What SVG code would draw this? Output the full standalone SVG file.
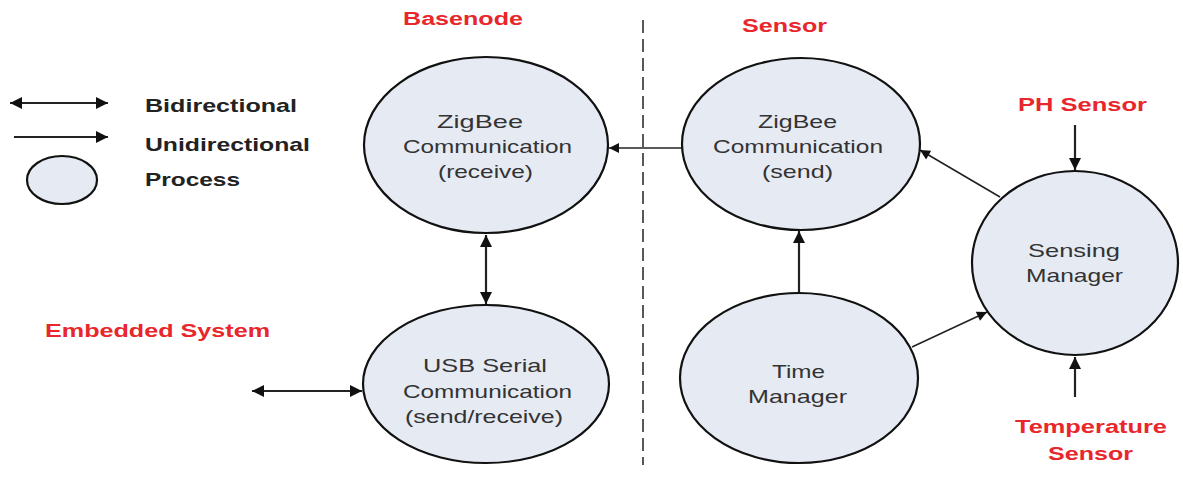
<svg xmlns="http://www.w3.org/2000/svg" width="1183" height="477" viewBox="0 0 1183 477">
<defs>
<marker id="ah" viewBox="0 0 10 10" refX="10" refY="5" markerWidth="13" markerHeight="10" markerUnits="userSpaceOnUse" orient="auto-start-reverse">
<path d="M0,0 L10,5 L0,10 z" fill="#111"/>
</marker>
<marker id="ahb" viewBox="0 0 10 10" refX="10" refY="5" markerWidth="16" markerHeight="12" markerUnits="userSpaceOnUse" orient="auto-start-reverse">
<path d="M0,0 L10,5 L0,10 z" fill="#111"/>
</marker>
</defs>
<style>
.proc{fill:#e6eaf3;stroke:#111;stroke-width:2.2}
.pt{font-family:"Liberation Sans",Arial,sans-serif;font-size:19px;fill:#333}
.red{font-family:"Liberation Sans",Arial,sans-serif;font-size:18px;font-weight:bold;fill:#e8262b}
.leg{font-family:"Liberation Sans",Arial,sans-serif;font-size:19px;font-weight:bold;fill:#222}
.c{stroke:#222;stroke-width:1.6;fill:none}
.cb{stroke:#222;stroke-width:2.2;fill:none}
</style>
<rect width="1183" height="477" fill="#fff"/>
<g id="legend">
<line class="cb" x1="10" y1="103" x2="108" y2="103" marker-start="url(#ahb)" marker-end="url(#ahb)"/>
<line class="cb" x1="14" y1="137" x2="108" y2="137" marker-end="url(#ahb)"/>
<ellipse class="proc" cx="62" cy="180" rx="35" ry="24"/>
<text class="leg" x="145" y="112" textLength="152" lengthAdjust="spacingAndGlyphs">Bidirectional</text>
<text class="leg" x="145" y="151" textLength="165" lengthAdjust="spacingAndGlyphs">Unidirectional</text>
<text class="leg" x="145" y="186" textLength="95" lengthAdjust="spacingAndGlyphs">Process</text>
</g>
<g id="labels">
<text class="red" x="403" y="25" textLength="120" lengthAdjust="spacingAndGlyphs">Basenode</text>
<text class="red" x="742" y="32" textLength="85" lengthAdjust="spacingAndGlyphs">Sensor</text>
<text class="red" x="1018" y="111" textLength="129" lengthAdjust="spacingAndGlyphs">PH Sensor</text>
<text class="red" x="45" y="337" textLength="225" lengthAdjust="spacingAndGlyphs">Embedded System</text>
<text class="red" x="1015" y="433" textLength="152" lengthAdjust="spacingAndGlyphs">Temperature</text>
<text class="red" x="1048" y="460" textLength="85" lengthAdjust="spacingAndGlyphs">Sensor</text>
</g>
<line id="divider" x1="643" y1="20" x2="643" y2="465" stroke="#222" stroke-width="1.5" stroke-dasharray="13,6"/>
<g id="connectors">
<line class="c" x1="682" y1="148" x2="609" y2="148" marker-end="url(#ah)"/>
<line class="cb" x1="486" y1="235" x2="486" y2="304" marker-start="url(#ahb)" marker-end="url(#ahb)"/>
<line class="cb" x1="252" y1="391" x2="362" y2="391" marker-start="url(#ahb)" marker-end="url(#ahb)"/>
<line class="cb" x1="799" y1="293" x2="799" y2="231" marker-end="url(#ahb)"/>
<line class="c" x1="1000" y1="197" x2="920" y2="150" marker-end="url(#ah)"/>
<line class="c" x1="912" y1="347" x2="987" y2="312" marker-end="url(#ah)"/>
<line class="cb" x1="1075" y1="125" x2="1075" y2="170" marker-end="url(#ahb)"/>
<line class="cb" x1="1075" y1="397" x2="1075" y2="357" marker-end="url(#ahb)"/>
</g>
<g id="zigbee-receive">
<ellipse class="proc" cx="486" cy="145" rx="122" ry="88"/>
<text class="pt" x="437" y="128" textLength="86" lengthAdjust="spacingAndGlyphs">ZigBee</text>
<text class="pt" x="403" y="153" textLength="169" lengthAdjust="spacingAndGlyphs">Communication</text>
<text class="pt" x="438" y="178" textLength="95" lengthAdjust="spacingAndGlyphs">(receive)</text>
</g>
<g id="zigbee-send">
<ellipse class="proc" cx="801" cy="144" rx="119" ry="86"/>
<text class="pt" x="758" y="128" textLength="79" lengthAdjust="spacingAndGlyphs">ZigBee</text>
<text class="pt" x="713" y="153" textLength="170" lengthAdjust="spacingAndGlyphs">Communication</text>
<text class="pt" x="762" y="178" textLength="71" lengthAdjust="spacingAndGlyphs">(send)</text>
</g>
<g id="usb-serial">
<ellipse class="proc" cx="486" cy="384" rx="123" ry="79"/>
<text class="pt" x="423" y="372" textLength="124" lengthAdjust="spacingAndGlyphs">USB Serial</text>
<text class="pt" x="403" y="398" textLength="169" lengthAdjust="spacingAndGlyphs">Communication</text>
<text class="pt" x="405" y="423" textLength="158" lengthAdjust="spacingAndGlyphs">(send/receive)</text>
</g>
<g id="time-manager">
<ellipse class="proc" cx="799" cy="378" rx="119" ry="85"/>
<text class="pt" x="772" y="378" textLength="53" lengthAdjust="spacingAndGlyphs">Time</text>
<text class="pt" x="748" y="403" textLength="99" lengthAdjust="spacingAndGlyphs">Manager</text>
</g>
<g id="sensing-manager">
<ellipse class="proc" cx="1075" cy="263" rx="103" ry="92"/>
<text class="pt" x="1028" y="257" textLength="92" lengthAdjust="spacingAndGlyphs">Sensing</text>
<text class="pt" x="1026" y="282" textLength="97" lengthAdjust="spacingAndGlyphs">Manager</text>
</g>
</svg>
